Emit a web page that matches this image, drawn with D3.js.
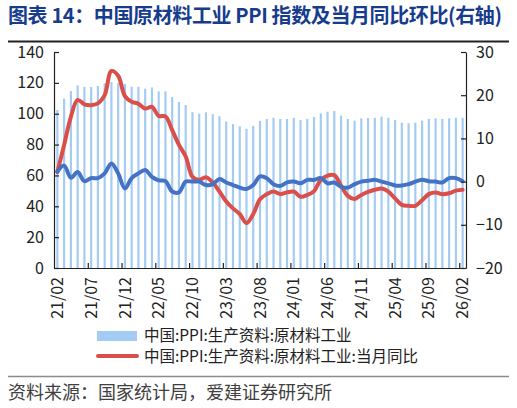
<!DOCTYPE html>
<html>
<head>
<meta charset="utf-8">
<script src="https://cdn.jsdelivr.net/npm/d3@7"></script>
<style>
  body { margin: 0; background: #fff; }
  svg { display: block; font-family: "Noto Sans CJK SC", "Noto Sans", sans-serif; }
</style>
</head>
<body>
<svg width="517" height="408"></svg>
<script>
// categories: monthly, 21/02 .. 26/02
var months = d3.timeMonth.range(new Date(2021, 1, 1), new Date(2026, 2, 1)).map(d3.timeFormat("%y/%m"));

// 中国:PPI:生产资料:原材料工业 (left axis)
var indexValues = [102.4, 109.8, 114.7, 118.3, 117.4, 117.3, 118, 119.7, 120.5, 120,
  119.3, 117.5, 117.4, 116.2, 117, 114.5, 114.5, 110.8, 107.6, 105.6,
  101, 100, 100.9, 99.7, 98.4, 95, 93.3, 91.8, 90.2, 92.1,
  95.4, 96.6, 97.4, 96.6, 96.6, 97.4, 95.9, 96.6, 97.9, 100.2,
  101.3, 101.8, 98.7, 96.6, 95.5, 97, 97.2, 97.4, 98.1, 97.4,
  95.9, 94.2, 93.8, 94.2, 95.5, 96.6, 97, 96.6, 97, 97.4, 97.4];

// 当月同比 (right axis)
var yoyValues = [2.2, 8.5, 15.0, 18.9, 17.9, 17.7, 18.1, 20.0, 25.6, 24.5,
  19.8, 18.5, 18.0, 16.9, 17.3, 15.2, 15.1, 11.9, 8.5, 5.8,
  1.1, 0.4, 1.0, -0.2, -2.3, -4.6, -6.2, -7.5, -9.6, -7.5,
  -4.1, -2.9, -2.3, -2.9, -2.5, -2.3, -3.5, -3.1, -2.2, 0.4,
  1.4, 1.5, -0.9, -3.3, -4.0, -3.1, -2.4, -1.9, -1.6, -2.3,
  -3.9, -5.4, -5.6, -5.6, -4.3, -2.9, -2.5, -2.9, -2.7, -2.1, -1.9];

// 环比 (right axis)
var momValues = [2.3, 3.7, 0.9, 2.2, 0.1, 0.8, 0.8, 1.9, 4.2, 1.9,
  -1.6, 0.8, 1.9, 2.7, 1.1, 0.3, 0.1, -2.3, -2.5, 0,
  0, 0, -0.8, -0.6, 0.6, -0.2, -0.8, -1.4, -1.7, -0.8,
  1.2, 0.8, -0.6, -1.0, -0.2, 0, -0.4, 0.4, 0.4, 0.8,
  -0.4, -0.2, -1.2, -1.4, -0.6, 0, 0.2, 0.4, 0, -0.4,
  -0.9, -0.9, -0.6, 0, 0.4, 0.1, 0, -0.2, 0.8, 0.8, 0.1];

var leftTicks = [0, 20, 40, 60, 80, 100, 120, 140];
var rightTicks = [-20, -10, 0, 10, 20, 30];

var svg = d3.select("svg");
var plotLeft = 54, plotRight = 466, plotTop = 52, plotBottom = 268;

var x = d3.scaleBand().domain(months).range([plotLeft, plotRight]).paddingInner(0.68).paddingOuter(0.34);
var xi = d3.scaleLinear().domain([0, months.length]).range([plotLeft, plotRight]);
var yL = d3.scaleLinear().domain([0, 140]).range([plotBottom, plotTop]);
var yR = d3.scaleLinear().domain([-20, 30]).range([plotBottom, plotTop]);

// title
svg.append("text")
   .attr("x", 8).attr("y", 23)
   .attr("font-size", 20).attr("font-weight", "bold")
   .attr("fill", "#183c8c")
   .attr("textLength", 494).attr("lengthAdjust", "spacing")
   .text("图表 14：中国原材料工业 PPI 指数及当月同比环比(右轴)");
svg.append("line")
   .attr("x1", 8).attr("x2", 509).attr("y1", 41.5).attr("y2", 41.5)
   .attr("stroke", "#222").attr("stroke-width", 2);

// bars
svg.append("g").selectAll("rect")
   .data(indexValues)
   .enter().append("rect")
   .attr("x", (d, i) => x(months[i]))
   .attr("width", x.bandwidth())
   .attr("y", d => yL(d))
   .attr("height", d => yL(0) - yL(d))
   .attr("fill", "#a3cbf3");

// lines
var lineY = d3.line()
   .x((d, i) => x(months[i]) + x.bandwidth() / 2)
   .y(d => yR(d))
   .curve(d3.curveCatmullRom.alpha(0.5));

svg.append("path").datum(yoyValues)
   .attr("d", lineY)
   .attr("fill", "none").attr("stroke", "#da4f49").attr("stroke-width", 4)
   .attr("stroke-linejoin", "round").attr("stroke-linecap", "round");

svg.append("path").datum(momValues)
   .attr("d", lineY)
   .attr("fill", "none").attr("stroke", "#4472c4").attr("stroke-width", 4)
   .attr("stroke-linejoin", "round").attr("stroke-linecap", "round");

// axes
function styleAxis(g) {
  g.select(".domain").attr("stroke", "#222").attr("stroke-width", 1.2);
  g.selectAll(".tick line").attr("stroke", "#222").attr("stroke-width", 1.2);
  g.selectAll("text").attr("fill", "#222")
   .attr("font-family", "\"Noto Sans CJK SC\", sans-serif").attr("font-size", 16);
}

svg.append("g")
   .attr("transform", "translate(" + plotLeft + ",0)")
   .call(d3.axisLeft(yL).tickValues(leftTicks).tickSize(-5).tickSizeOuter(0).tickPadding(10))
   .call(styleAxis);

svg.append("g")
   .attr("transform", "translate(" + plotRight + ",0)")
   .call(d3.axisRight(yR).tickValues(rightTicks).tickSize(-5).tickSizeOuter(0).tickPadding(10))
   .call(styleAxis);

svg.append("g")
   .attr("transform", "translate(0," + plotBottom + ")")
   .call(d3.axisBottom(xi).tickValues(d3.range(5, months.length, 5)).tickSize(-5).tickSizeOuter(0).tickFormat(""))
   .call(styleAxis);

var labelAxis = svg.append("g")
   .attr("transform", "translate(0," + plotBottom + ")")
   .call(d3.axisBottom(x).tickValues(months.filter((d, i) => i % 5 === 0)).tickSize(0))
   .call(styleAxis);
labelAxis.select(".domain").remove();
labelAxis.selectAll("text")
   .attr("transform", "translate(0,9) rotate(-90)")
   .attr("x", 0).attr("y", 0).attr("dy", "0.35em")
   .attr("text-anchor", "end");

// legend
var legend = svg.append("g").attr("font-size", 15.5).attr("fill", "#222");
legend.append("rect").attr("x", 97).attr("y", 331).attr("width", 40).attr("height", 10).attr("fill", "#a3cbf3");
legend.append("text").attr("x", 144).attr("y", 336).attr("dy", "0.35em").text("中国:PPI:生产资料:原材料工业");
legend.append("line").attr("x1", 98).attr("x2", 137).attr("y1", 356).attr("y2", 356)
      .attr("stroke", "#da4f49").attr("stroke-width", 4).attr("stroke-linecap", "round");
legend.append("text").attr("x", 144).attr("y", 356.5).attr("dy", "0.35em").text("中国:PPI:生产资料:原材料工业:当月同比");

// source
svg.append("line")
   .attr("x1", 8).attr("x2", 509).attr("y1", 376.5).attr("y2", 376.5)
   .attr("stroke", "#8c8c8c").attr("stroke-width", 1.5);
svg.append("text")
   .attr("x", 8).attr("y", 393).attr("dy", "0.35em")
   .attr("font-size", 18).attr("fill", "#404040")
   .text("资料来源：国家统计局，爱建证券研究所");
</script>
</body>
</html>
